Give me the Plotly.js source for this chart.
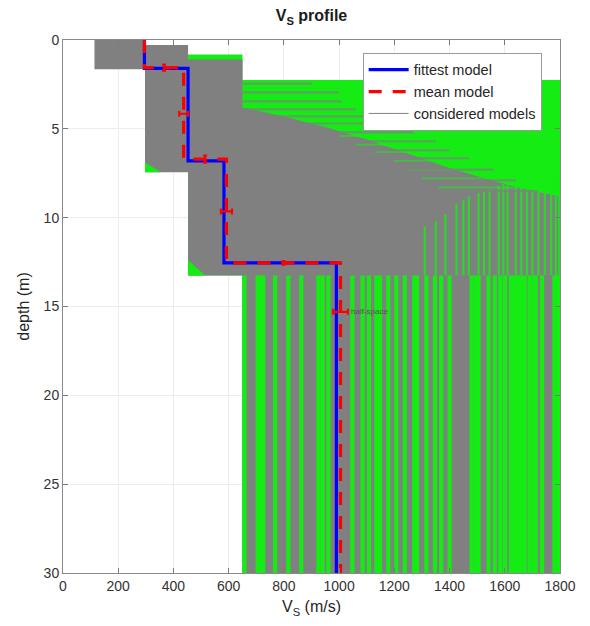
<!DOCTYPE html>
<html><head><meta charset="utf-8">
<script src="https://cdn.plot.ly/plotly-3.0.1.min.js"></script>
<style>html,body{margin:0;padding:0;background:#fff}#chart{width:590px;height:626px}</style>
</head><body><div id="chart"></div>
<script>
// ---------------- data ----------------
const maxDepth = 30;
// fittest model (layer velocities and interface depths)
const fittestVs = [295, 453, 583, 990];
const fittestInterfaces = [1.6, 6.8, 12.55];
// mean model
const meanVs = [295, 437, 592, 1005];
const meanInterfaces = [1.55, 6.7, 12.55];
// mean-model uncertainty (layers 2..4 velocity, interfaces depth)
const meanErrLayerVs = [437, 592, 1005];
const meanErrLayerDepth = [4.15, 9.65, 15.3];
const meanErrLayerVsErr = [16, 20, 27];
const meanInterfaceErr = [0.17, 0.2, 0.1];

// envelope of the explored models (green)
const exploredEnvVs = [453, 650, 650, 1800, 1800, 650, 650, 453];
const exploredEnvDepth = [0.82, 0.82, 2.25, 2.25, 30, 30, 13.25, 13.25];
// envelope of considered models (gray)
const consideredEnvVs = [114, 297, 297, 453, 453, 650, 650, 800, 950, 1100, 1250, 1400, 1550, 1700, 1800, 1800, 650, 650, 453, 453, 297, 297, 114];
const consideredEnvDepth = [0, 0, 0.28, 0.28, 1.1, 1.1, 3.8, 4.3, 4.9, 5.6, 6.4, 7.2, 7.9, 8.5, 8.8, 30, 30, 13.25, 13.25, 7.45, 7.45, 1.65, 1.65];
// small explored corners at the bottom of layer 2 and 3
const cornerVs = [[297, 297, 355], [453, 453, 515]];
const cornerDepth = [[6.9, 7.45, 7.45], [12.4, 13.25, 13.25]];
// half-space velocities of explored models (green stripes)
const halfspaceGreenVs = [657, 705, 714, 725, 768, 816, 863, 925, 940, 961, 1048, 1085, 1108, 1135, 1148, 1178, 1207, 1238, 1272, 1282, 1316, 1347, 1370, 1400, 1480, 1495, 1505, 1541, 1564, 1584, 1601, 1622, 1635, 1648, 1660, 1672, 1690, 1705, 1712, 1735, 1780, 1790, 1797];
const halfspaceTop = 13.25;
// high-velocity explored models visible in layer 3 (green streaks)
const layer3GreenVs = [1310, 1350, 1385, 1425, 1450, 1470, 1505, 1525, 1545, 1578, 1595, 1610, 1640, 1660, 1680, 1700, 1722, 1745, 1768, 1785, 1797];
const layer3GreenTop = [10.5, 10.2, 9.8, 9.2, 9.0, 8.8, 8.6, 8.5, 8.4, 8.2, 8.1, 8.0, 8.0, 7.9, 7.9, 7.8, 7.8, 7.8, 7.7, 7.7, 7.7];
// considered models reaching into the shallow explored zone (gray streaks)
const grayStreakDepth = [2.45, 2.95, 3.45, 3.9, 4.3, 4.7, 5.2, 5.7, 6.2, 6.65, 7.3, 7.9, 8.5];
const grayStreakVsEnd = [900, 1000, 1010, 1060, 1120, 1200, 1270, 1350, 1400, 1470, 1560, 1640, 1720];
const grayStreakVsStart = 650;
// explored models seen through the gray cloud (green horizontal streaks)
const greenStreakDepth = [5.4, 5.9, 6.3, 6.8, 7.3, 7.8, 8.3];
const greenStreakVsStart = [1000, 1060, 1130, 1200, 1250, 1300, 1360];
const greenStreakVsEnd = [1250, 1330, 1400, 1480, 1560, 1650, 1800];

// ---------------- helpers ----------------
function stepProfile(vs, interfaces) {
  const x = [], y = [];
  let top = 0;
  for (let i = 0; i < vs.length; i++) {
    const bot = i < interfaces.length ? interfaces[i] : maxDepth;
    x.push(vs[i], vs[i]); y.push(top, bot);
    top = bot;
  }
  return {x, y};
}
function verticalSegments(vsList, tops, bottom) {
  const x = [], y = [];
  vsList.forEach((v, i) => { x.push(v, v, null); y.push(Array.isArray(tops) ? tops[i] : tops, bottom, null); });
  return {x, y};
}
function horizontalSegments(depths, starts, ends) {
  const x = [], y = [];
  depths.forEach((d, i) => { x.push(Array.isArray(starts) ? starts[i] : starts, ends[i], null); y.push(d, d, null); });
  return {x, y};
}

const GREEN = '#14ec14';
const GRAY = '#808080';
const traces = [];
const bg = {type: 'scatter', mode: 'lines', showlegend: false, hoverinfo: 'skip', connectgaps: false};

traces.push(Object.assign({x: exploredEnvVs, y: exploredEnvDepth, fill: 'toself', fillcolor: GREEN, line: {width: 0}}, bg));
traces.push(Object.assign({x: consideredEnvVs, y: consideredEnvDepth, fill: 'toself', fillcolor: GRAY, line: {width: 0}}, bg));
cornerVs.forEach((cv, i) => traces.push(Object.assign({x: cv, y: cornerDepth[i], fill: 'toself', fillcolor: GREEN, line: {width: 0}}, bg)));

const gr = horizontalSegments(greenStreakDepth, greenStreakVsStart, greenStreakVsEnd);
traces.push(Object.assign({x: gr.x, y: gr.y, line: {color: 'rgba(20,236,20,0.55)', width: 2}}, bg));
const l3 = verticalSegments(layer3GreenVs, layer3GreenTop, halfspaceTop);
traces.push(Object.assign({x: l3.x, y: l3.y, line: {color: 'rgba(20,236,20,0.8)', width: 2.2}}, bg));
const hs = verticalSegments(halfspaceGreenVs, halfspaceTop, maxDepth);
traces.push(Object.assign({x: hs.x, y: hs.y, line: {color: GREEN, width: 4.2}}, bg));
const gs = horizontalSegments(grayStreakDepth, grayStreakVsStart, grayStreakVsEnd);
traces.push(Object.assign({x: gs.x, y: gs.y, line: {color: 'rgba(128,128,128,0.7)', width: 2.2}}, bg));

const fit = stepProfile(fittestVs, fittestInterfaces);
traces.push({x: fit.x, y: fit.y, type: 'scatter', mode: 'lines', name: 'fittest model',
  line: {color: '#0000ff', width: 3.2}});
const mean = stepProfile(meanVs, meanInterfaces);
traces.push({x: mean.x, y: mean.y, type: 'scatter', mode: 'lines', name: 'mean model',
  line: {color: '#ff0000', width: 3.2, dash: '13px,11px'}});
traces.push({x: [null], y: [null], type: 'scatter', mode: 'lines', name: 'considered models',
  line: {color: GRAY, width: 1}});

// mean-model error bars
traces.push({x: meanErrLayerVs, y: meanErrLayerDepth, type: 'scatter', mode: 'markers',
  marker: {size: 1, color: '#ff0000'}, showlegend: false, hoverinfo: 'skip',
  error_x: {type: 'data', array: meanErrLayerVsErr, visible: true, color: '#ff0000', thickness: 2.2, width: 3}});
const ifX = meanInterfaces.map((d, i) => (meanVs[i] + meanVs[i + 1]) / 2);
traces.push({x: ifX, y: meanInterfaces, type: 'scatter', mode: 'markers',
  marker: {size: 1, color: '#ff0000'}, showlegend: false, hoverinfo: 'skip',
  error_y: {type: 'data', array: meanInterfaceErr, visible: true, color: '#ff0000', thickness: 2.2, width: 2}});

const FONT = 'Liberation Sans, Arial, Helvetica, sans-serif';
const layout = {
  width: 590, height: 626,
  margin: {l: 63, r: 30, t: 40, b: 53},
  paper_bgcolor: '#ffffff', plot_bgcolor: '#ffffff',
  font: {family: FONT, color: '#262626'},
  title: {text: '<b>V<sub>S</sub> profile</b>', font: {size: 16, family: FONT, color: '#1a1a1a'},
    xref: 'paper', x: 0.5, xanchor: 'center', yref: 'container', y: 0.975, yanchor: 'middle'},
  xaxis: {range: [0, 1800], tickvals: [0, 200, 400, 600, 800, 1000, 1200, 1400, 1600, 1800],
    ticks: 'inside', ticklen: 5, tickcolor: '#7a7a7a', showline: true, linecolor: '#8a8a8a', linewidth: 1,
    mirror: 'ticks', showgrid: true, gridcolor: '#ececec', zeroline: false,
    tickfont: {size: 14, color: '#333333'}, automargin: false,
    title: {text: 'V<sub>S</sub> (m/s)', font: {size: 16, color: '#262626'}, standoff: 8}},
  yaxis: {range: [30, 0], tickvals: [0, 5, 10, 15, 20, 25, 30],
    ticks: 'inside', ticklen: 5, tickcolor: '#7a7a7a', showline: true, linecolor: '#8a8a8a', linewidth: 1,
    mirror: 'ticks', showgrid: true, gridcolor: '#ececec', zeroline: false,
    tickfont: {size: 14, color: '#333333'}, automargin: false,
    title: {text: 'depth (m)', font: {size: 16, color: '#262626'}, standoff: 10}},
  legend: {x: 0.603, y: 0.976, xanchor: 'left', yanchor: 'top', bgcolor: '#ffffff',
    bordercolor: '#9a9a9a', borderwidth: 1, font: {size: 14.5, color: '#262626'}, tracegroupgap: 0,
    itemwidth: 40},
  annotations: [{x: 1035, y: 15.3, xref: 'x', yref: 'y', text: 'half-space', showarrow: false,
    xanchor: 'left', yanchor: 'middle', font: {size: 8, color: '#555555'}}]
};
Plotly.newPlot('chart', traces, layout, {staticPlot: true, displayModeBar: false});
</script></body></html>
